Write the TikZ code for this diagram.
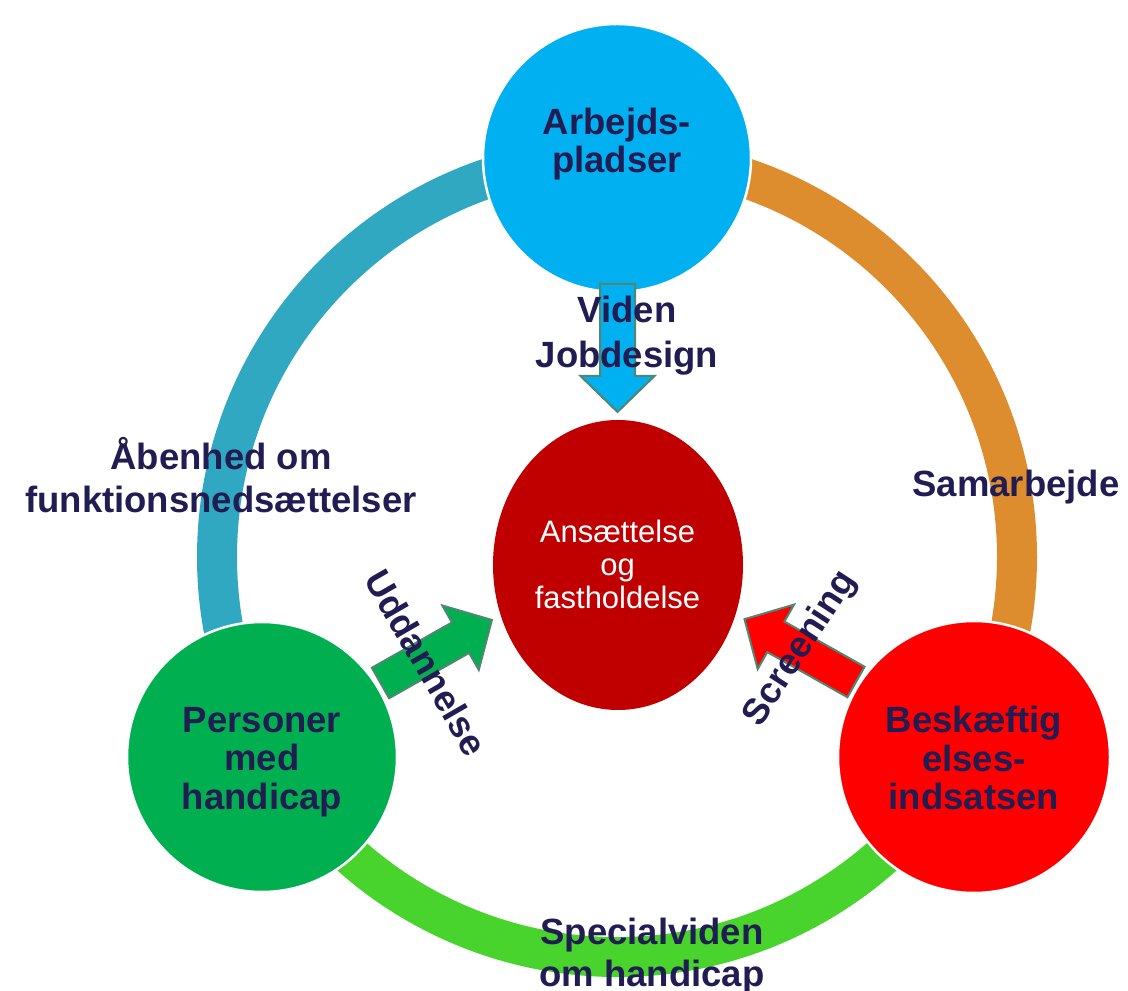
\documentclass[tikz,border=0pt]{standalone}
\usepackage{fontspec}
\setmainfont{Liberation Sans}
\usetikzlibrary{calc,shapes.geometric}
\definecolor{navy}{RGB}{33,29,82}
\definecolor{tealband}{RGB}{49,168,193}
\definecolor{orangeband}{RGB}{222,141,46}
\definecolor{greenband}{RGB}{72,212,45}
\definecolor{skyblue}{RGB}{0,176,240}
\definecolor{hubgreen}{RGB}{0,176,80}
\definecolor{hubred}{RGB}{255,0,0}
\definecolor{darkred}{RGB}{192,0,0}
\definecolor{arrowline}{RGB}{80,135,115}
\begin{document}
\begin{tikzpicture}[x=1pt,y=1pt,
  lbl/.style={font=\bfseries\fontsize{36.5}{38.5}\selectfont, text=navy, align=center, inner sep=0pt},
  hub/.style={circle, draw=white, line width=2.5pt, inner sep=0pt},
  band/.style={line width=40pt},
  blk/.style={draw=arrowline, line width=2pt, line join=miter}]
\useasboundingbox (0,0) rectangle (1128,991);
\coordinate (ring) at (617,434);
% ring segments
\draw[band, tealband] ($(ring)+(90:400)$) arc[start angle=90, end angle=209.4, radius=400];
\draw[band, orangeband] ($(ring)+(90:400)$) arc[start angle=90, end angle=-29.3, radius=400];
\draw[band, greenband] ($(ring)+(209.4:400)$) arc[start angle=209.4, end angle=330.7, radius=400];
% hubs
\node[hub, fill=skyblue, minimum size=268pt] (ntop) at (617,833) {};
\node[hub, fill=hubgreen, minimum size=270pt] (nleft) at (262,234) {};
\node[hub, fill=hubred, minimum size=272pt] (nright) at (974,234) {};
\node[ellipse, fill=darkred, minimum width=250pt, minimum height=290pt, inner sep=0pt] (ncenter) at (618,426) {};
% block arrows
\begin{scope}[shift={(617.5,707)}, rotate=-90]
  \draw[blk, fill=skyblue] (0,-17.5) -- (92,-17.5) -- (92,-37) -- (128,0) -- (92,37) -- (92,17.5) -- (0,17.5) -- cycle;
\end{scope}
\begin{scope}[shift={(380.5,308)}, rotate=29.5]
  \draw[blk, fill=hubgreen] (0,-17.5) -- (92,-17.5) -- (92,-37) -- (128,0) -- (92,37) -- (92,17.5) -- (0,17.5) -- cycle;
\end{scope}
\begin{scope}[shift={(856,309)}, rotate=150.6]
  \draw[blk, fill=hubred] (0,-17.5) -- (92,-17.5) -- (92,-37) -- (128,0) -- (92,37) -- (92,17.5) -- (0,17.5) -- cycle;
\end{scope}
% texts
\node[lbl] (tarb) at ([yshift=14]ntop.center) {Arbejds-\\pladser};
\node[lbl] (tper) at ([yshift=-5]nleft.center) {Personer\\med\\handicap};
\node[lbl] (tbes) at ([yshift=-1]nright.center) {Beskæftig\\elses-\\indsatsen};
\node[font=\fontsize{31}{33}\selectfont, text=white, align=center, inner sep=0pt] (tans) at (617.5,427) {Ansættelse\\og\\fastholdelse};
\node[lbl, font=\bfseries\fontsize{36.5}{45}\selectfont] (tvid) at (627,655) {Viden\\Jobdesign};
\node[lbl, font=\bfseries\fontsize{36.5}{43}\selectfont] (taab) at (221,516) {Åbenhed om\\funktionsnedsættelser};
\node[lbl, anchor=base] (tsam) at (1016,494) {Samarbejde};
\node[lbl, font=\bfseries\fontsize{36.5}{42}\selectfont] (tspe) at (652,34.5) {Specialviden\\om handicap};
\node[lbl, rotate=-60] (tudd) at (426.5,328.5) {Uddannelse};
\node[lbl, rotate=57] (tscr) at (800.5,342) {Screening};
\end{tikzpicture}
\end{document}
